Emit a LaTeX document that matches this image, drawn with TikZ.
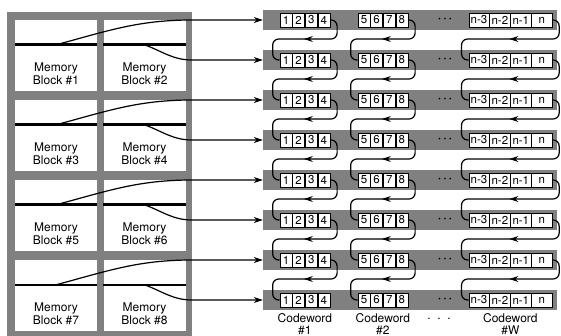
\documentclass[tikz,border=0pt]{standalone}
\usepackage{fontspec}
\setmainfont{TeX Gyre Heros}
\usetikzlibrary{arrows.meta,positioning,calc,decorations.markings}

\begin{document}
\begin{tikzpicture}[x=1pt,y=-1pt,
  frame/.style={rectangle, fill=black!50, inner sep=0pt},
  topcell/.style={rectangle, fill=white, minimum width=82pt, minimum height=25pt, inner sep=0pt},
  blk/.style={rectangle, fill=white, minimum width=82pt, minimum height=46pt, inner sep=0pt},
  bar/.style={line width=2.6pt, draw=black},
  memlbl/.style={align=center, font=\fontsize{12}{13}\selectfont},
  strip/.style={rectangle, fill=black!50, minimum width=294pt, minimum height=20pt, inner sep=0pt},
  sym/.style={rectangle, draw=black, line width=0.6pt, fill=white, minimum width=12pt, minimum height=14pt, inner sep=0pt, font=\fontsize{11.5}{12}\selectfont},
  wsym/.style={sym, minimum width=20.3pt},
  dots/.style={inner sep=0pt, font=\fontsize{7}{7}\selectfont},
  cwlbl/.style={align=center, inner sep=0pt, font=\fontsize{12}{11.5}\selectfont},
  carr/.style={-{Stealth[length=9pt,width=6pt]}, line width=1.2pt},
  link/.style={line width=1.2pt, rounded corners=6pt, postaction={decorate},
    decoration={markings, mark=at position 0.5 with {\arrow{Stealth[length=9pt,width=6pt]}}}},
]
\useasboundingbox (0,0) rectangle (561,336);

% --- left: memory array, 2 columns x 4 rows of blocks on a grey frame ---
\def\xColA{56}\def\xColB{144.5}
\node[frame, minimum width=185pt, minimum height=324pt] (frame) at (99.5,174) {};

\foreach \r in {1,...,4}{
  \pgfmathtruncatemacro\bo{2*\r-1}
  \pgfmathtruncatemacro\be{2*\r}
  \pgfmathsetmacro\yc{68+80*(\r-1)}
  \node[blk] (mb\bo) at (\xColA,\yc) {};
  \node[blk] (mb\be) at (\xColB,\yc) {};
  \node[topcell, above=0pt of mb\bo] (tc\bo) {};
  \node[topcell, above=0pt of mb\be] (tc\be) {};
  \draw[bar] (mb\bo.north west) -- (mb\bo.north east);
  \draw[bar] (mb\be.north west) -- (mb\be.north east);
  \node[memlbl] (ml\bo) at ([yshift=-6pt]mb\bo.center) {Memory\\Block \#\bo};
  \node[memlbl] (ml\be) at ([yshift=-6pt]mb\be.center) {Memory\\Block \#\be};
}

% --- right: 8 rows, each one symbol slot of every codeword ---
\foreach \i in {1,...,8}{
  \pgfmathsetmacro\ys{20+40*(\i-1)}
  \node[strip] (s\i) at (410,\ys) {};
  \node[sym] (r\i-1) at (286,\ys) {1};
  \node[sym, right=0pt of r\i-1] (r\i-2) {2};
  \node[sym, right=0pt of r\i-2] (r\i-3) {3};
  \node[sym, right=0pt of r\i-3] (r\i-4) {4};
  \node[sym] (r\i-5) at (364,\ys) {5};
  \node[sym, right=0pt of r\i-5] (r\i-6) {6};
  \node[sym, right=0pt of r\i-6] (r\i-7) {7};
  \node[sym, right=0pt of r\i-7] (r\i-8) {8};
  \node[dots] (r\i-dt) at (445,\ys) {\textbullet\hspace{3pt}\textbullet\hspace{3pt}\textbullet};
  \node[wsym] (r\i-n3) at (479,\ys) {n-3};
  \node[wsym, right=0pt of r\i-n3] (r\i-n2) {n-2};
  \node[wsym, right=0pt of r\i-n2] (r\i-n1) {n-1};
  \node[wsym, right=0pt of r\i-n1] (r\i-n) {n};
}

% --- arrows: memory blocks into the rows (odd -> up, even -> down) ---
\foreach \r in {1,...,4}{
  \pgfmathtruncatemacro\bo{2*\r-1}
  \pgfmathtruncatemacro\be{2*\r}
  \draw[carr] (mb\bo.north) to[out=15,in=180] (frame.east |- s\bo.west) -- (s\bo.west);
  \draw[carr] (mb\be.north) to[out=-20,in=180] (frame.east |- s\be.west) -- (s\be.west);
}

% --- arrows: serpentine links from row i to row i+1, one per codeword ---
\foreach \i in {1,...,7}{
  \pgfmathtruncatemacro\j{\i+1}
  \draw[link] (r\i-4.east) -| ($(r\i-4.east)+(7,19)$) -| ($(r\j-1.west)+(-7,0)$) -- (r\j-1.west);
  \draw[link] (r\i-8.east) -| ($(r\i-8.east)+(7,19)$) -| ($(r\j-5.west)+(-7,0)$) -- (r\j-5.west);
  \draw[link] (r\i-n.east) -| ($(r\i-n.east)+(7,19)$) -| ($(r\j-n3.west)+(-7,0)$) -- (r\j-n3.west);
}

% --- codeword labels under the last row ---
\node[cwlbl] (cw1) at ($(r8-2.east |- s8.south)+(0,14)$) {Codeword\\\#1};
\node[cwlbl] (cw2) at ($(r8-6.east |- s8.south)+(0,14)$) {Codeword\\\#2};
\node[cwlbl] (cwW) at ($(r8-n2.east |- s8.south)+(0,14)$) {Codeword\\\#W};
\node[cwlbl] (cwdt) at ($(r8-dt.center)+(-6,19)$) {.\ \ .\ \ .};

\end{tikzpicture}
\end{document}
